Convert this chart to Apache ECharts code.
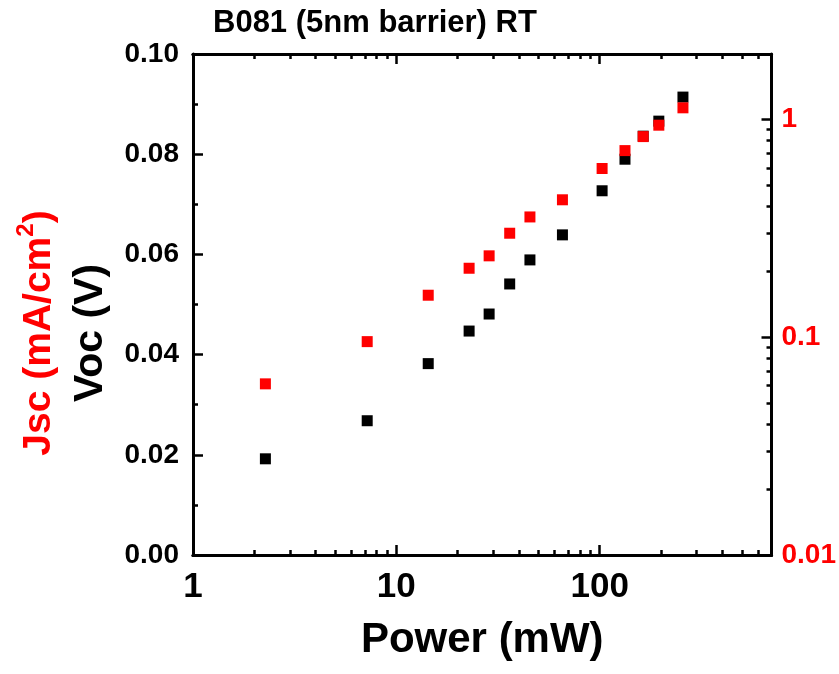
<!DOCTYPE html>
<html>
<head>
<meta charset="utf-8">
<script src="https://cdn.jsdelivr.net/npm/echarts@6/dist/echarts.min.js"></script>
<style>html,body{margin:0;padding:0;background:#fff;}#c{width:839px;height:674px;}</style>
</head>
<body>
<div id="c"></div>
<script>
// ---- data ----
const powerMW = [2.27, 7.19, 14.35, 22.8, 28.6, 36.1, 45.4, 65.6, 102.8, 133.2, 163.7, 195.4, 256.8];
const vocV    = [0.0192, 0.0268, 0.0382, 0.0447, 0.0481, 0.0541, 0.0589, 0.0639, 0.0727, 0.0790, 0.0836, 0.0866, 0.0914];
const jscMA   = [0.0611, 0.0955, 0.156, 0.2075, 0.2366, 0.3005, 0.357, 0.428, 0.596, 0.720, 0.835, 0.942, 1.132];

const xMajorTicks = [1, 10, 100];
const xMajorLabels = ['1', '10', '100'];
const xMinorTicks = [2,3,4,5,6,7,8,9,20,30,40,50,60,70,80,90,200,300,400,500,600,700];
const yRightMajorTicks = [0.01, 0.1, 1];
const yRightMajorLabels = ['0.01', '0.1', '1'];
const yRightMinorTicks = [0.02,0.03,0.04,0.05,0.06,0.07,0.08,0.09,0.2,0.3,0.4,0.5,0.6,0.7,0.8,0.9,2];

const titleText = 'B081 (5nm barrier) RT';
const xName = 'Power (mW)';

const FONT = '"Liberation Sans", Arial, sans-serif';

function hasFont(name) {
  const ctx = document.createElement('canvas').getContext('2d');
  ctx.font = 'bold 40px monospace';
  const w1 = ctx.measureText('100 Power').width;
  ctx.font = 'bold 40px "' + name + '", monospace';
  const w2 = ctx.measureText('100 Power').width;
  return Math.abs(w1 - w2) > 0.5;
}
const narrowOK = hasFont('Liberation Sans Narrow');
const XLAB_FONT = narrowOK ? '"Liberation Sans Narrow", "Arial Narrow", sans-serif' : FONT;
const XLAB_SIZE = narrowOK ? 42 : 35;
const XLAB_MARGIN = narrowOK ? 10 : 15;

const lineStyle = { color: '#000', width: 3 };
const tickLine = { color: '#000', width: 2.5 };

function xAxisBase(pos, major, showLabel) {
  return {
    type: 'log', logBase: 10, min: 1, max: 700, position: pos,
    gridIndex: 0,
    axisLine: { show: true, onZero: false, lineStyle: lineStyle },
    axisTick: { show: true, inside: true, length: major ? 10 : 5,
      lineStyle: tickLine,
      customValues: major ? xMajorTicks : xMinorTicks },
    axisLabel: showLabel ? {
      show: true, customValues: xMajorTicks,
      formatter: v => { const i = xMajorTicks.findIndex(t => Math.abs(t - v) < 1e-6 * t); return i >= 0 ? xMajorLabels[i] : ''; },
      fontFamily: XLAB_FONT, fontWeight: 'bold', fontSize: XLAB_SIZE, color: '#000', margin: XLAB_MARGIN
    } : { show: false },
    splitLine: { show: false },
    minorTick: { show: false }
  };
}

const xAxes = [
  Object.assign(xAxisBase('bottom', true, true), {
    name: xName, nameLocation: 'middle', nameGap: 64,
    nameTextStyle: { fontFamily: FONT, fontWeight: 'bold', fontSize: 42, color: '#000' }
  }),
  xAxisBase('bottom', false, false),
  xAxisBase('top', true, false),
  xAxisBase('top', false, false)
];

const yAxes = [
  {
    type: 'value', min: 0, max: 0.1, interval: 0.02, position: 'left',
    axisLine: { show: true, onZero: false, lineStyle: lineStyle },
    axisTick: { show: true, inside: true, length: 10, lineStyle: tickLine },
    minorTick: { show: true, splitNumber: 2, length: 5, lineStyle: tickLine },
    axisLabel: { formatter: v => v.toFixed(2), fontFamily: FONT, fontWeight: 'bold', fontSize: 28, color: '#000', margin: 14 },
    splitLine: { show: false },
    name: '{j|Jsc (mA/cm}{s|2}{j|)}\n{v|Voc (V)}',
    nameLocation: 'middle', nameRotate: 90, nameGap: 77,
    nameTextStyle: {
      fontFamily: FONT, fontWeight: 'bold', fontSize: 40,
      padding: [0, 57, 0, 0],
      rich: {
        j: { color: '#FF0000', fontFamily: FONT, fontWeight: 'bold', fontSize: 39, lineHeight: 51 },
        s: { color: '#FF0000', fontFamily: FONT, fontWeight: 'bold', fontSize: 24, lineHeight: 51, verticalAlign: 'top' },
        v: { color: '#000', fontFamily: FONT, fontWeight: 'bold', fontSize: 41, lineHeight: 51 }
      }
    }
  },
  {
    type: 'log', logBase: 10, min: 0.01, max: 2, position: 'right',
    axisLine: { show: true, onZero: false, lineStyle: lineStyle },
    axisTick: { show: true, inside: true, length: 10, lineStyle: tickLine, customValues: yRightMajorTicks },
    axisLabel: {
      customValues: yRightMajorTicks,
      formatter: v => { const i = yRightMajorTicks.findIndex(t => Math.abs(t - v) < 1e-6 * t); return i >= 0 ? yRightMajorLabels[i] : ''; },
      fontFamily: FONT, fontWeight: 'bold', fontSize: 28, color: '#FF0000', margin: 10
    },
    splitLine: { show: false },
    minorTick: { show: false }
  },
  {
    type: 'log', logBase: 10, min: 0.01, max: 2, position: 'right',
    axisLine: { show: false },
    axisTick: { show: true, inside: true, length: 5, lineStyle: tickLine, customValues: yRightMinorTicks },
    axisLabel: { show: false },
    splitLine: { show: false },
    minorTick: { show: false }
  }
];

const option = {
  animation: false,
  backgroundColor: '#fff',
  title: {
    text: titleText, left: 213, top: 8, padding: 0,
    textStyle: { fontFamily: FONT, fontWeight: 'bold', fontSize: 31, color: '#000' }
  },
  grid: { left: 193, right: 64, top: 54, bottom: 119, containLabel: false },
  xAxis: xAxes,
  yAxis: yAxes,
  series: [
    {
      name: 'Voc', type: 'scatter', xAxisIndex: 0, yAxisIndex: 0,
      symbol: 'rect', symbolSize: 11,
      itemStyle: { color: '#000', opacity: 1 },
      data: powerMW.map((p, i) => [p, vocV[i]])
    },
    {
      name: 'Jsc', type: 'scatter', xAxisIndex: 0, yAxisIndex: 1,
      symbol: 'rect', symbolSize: 11,
      itemStyle: { color: '#FF0000', opacity: 1 },
      data: powerMW.map((p, i) => [p, jscMA[i]])
    }
  ]
};

const chart = echarts.init(document.getElementById('c'), null, { renderer: 'canvas' });
chart.setOption(option);
</script>
</body>
</html>
